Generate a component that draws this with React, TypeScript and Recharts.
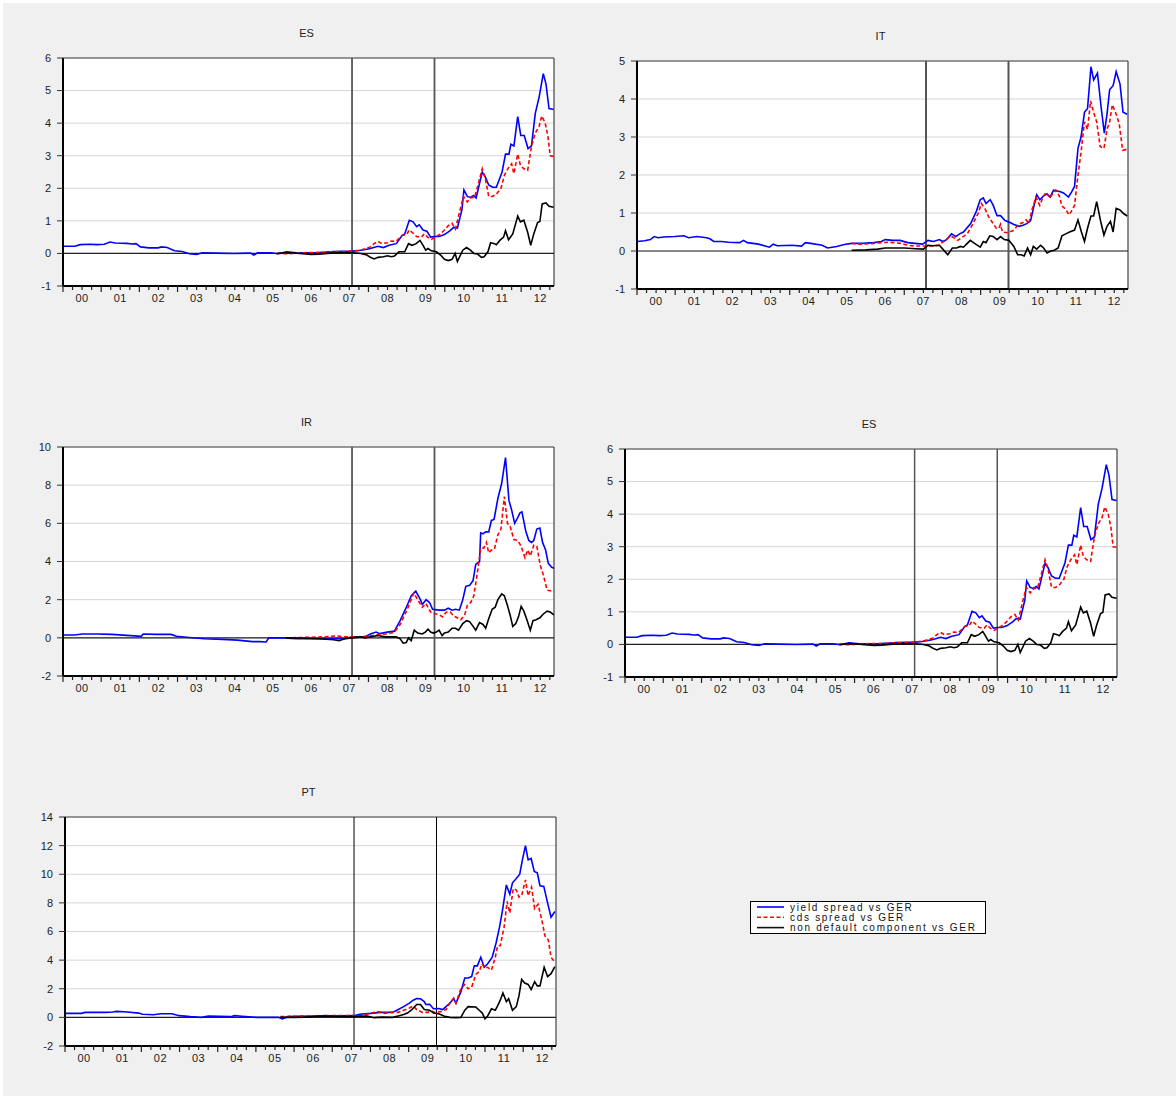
import React from 'react';
import { LineChart, Line, XAxis, YAxis, CartesianGrid, ReferenceLine } from 'recharts';

// ---------- categories / labels ----------
const YEAR_LABELS = ['00', '01', '02', '03', '04', '05', '06', '07', '08', '09', '10', '11', '12'];
const X_MAX = 12.86; // years since Jan 2000
const BREAKS = [7.57, 9.73];
const SERIES_NAMES = ['yield spread vs GER', 'cds spread vs GER', 'non default component vs GER'];

// ---------- data: [years since 2000, value] ----------
const ES_YIELD: [number, number][] = [
  [0.0, 0.22], [0.31, 0.22], [0.45, 0.27], [0.7, 0.28], [0.89, 0.27], [1.08, 0.28], [1.23, 0.35], [1.37, 0.32],
  [1.67, 0.31], [1.81, 0.29], [1.91, 0.3], [2.03, 0.2], [2.25, 0.17], [2.49, 0.17], [2.58, 0.2], [2.73, 0.18],
  [2.92, 0.08], [3.12, 0.06], [3.31, -0.01], [3.5, -0.03], [3.65, 0.02], [3.99, 0.01], [4.47, 0.0], [4.91, 0.01],
  [5.0, -0.05], [5.1, 0.02], [5.44, 0.02], [5.63, -0.01], [5.85, 0.05], [6.12, 0.02], [6.6, 0.02], [6.89, 0.04],
  [7.09, 0.06], [7.57, 0.07], [7.76, 0.09], [7.96, 0.13], [8.05, 0.15], [8.25, 0.22], [8.39, 0.18], [8.54, 0.25],
  [8.73, 0.3], [8.88, 0.55], [8.95, 0.6], [9.07, 1.02], [9.17, 0.97], [9.26, 0.82], [9.33, 0.88], [9.43, 0.72],
  [9.53, 0.68], [9.63, 0.5], [9.75, 0.52], [9.85, 0.52], [9.99, 0.58], [10.14, 0.7], [10.23, 0.8], [10.33, 0.78],
  [10.45, 1.35], [10.5, 1.95], [10.59, 1.75], [10.67, 1.72], [10.75, 1.78], [10.82, 1.7], [10.98, 2.5], [11.06, 2.35],
  [11.15, 2.1], [11.25, 2.03], [11.35, 2.03], [11.5, 2.5], [11.59, 3.05], [11.68, 3.05], [11.73, 3.35], [11.81, 3.3],
  [11.91, 4.2], [11.99, 3.62], [12.08, 3.62], [12.18, 3.22], [12.27, 3.3], [12.37, 4.3], [12.47, 4.8], [12.58, 5.52],
  [12.65, 5.2], [12.73, 4.45], [12.85, 4.42],
];
const ES_CDS: [number, number][] = [
  [5.6, 0.0], [5.9, -0.01], [6.2, 0.02], [6.5, 0.03], [6.8, 0.03], [7.1, 0.05], [7.4, 0.06], [7.6, 0.08], [7.8, 0.1],
  [8.05, 0.2], [8.15, 0.3], [8.25, 0.37], [8.35, 0.3], [8.5, 0.33], [8.6, 0.38], [8.72, 0.37], [8.88, 0.55], [9.0, 0.58],
  [9.07, 0.72], [9.17, 0.62], [9.26, 0.52], [9.39, 0.5], [9.46, 0.6], [9.55, 0.5], [9.65, 0.43], [9.75, 0.5], [9.89, 0.6],
  [9.99, 0.72], [10.09, 0.85], [10.19, 0.92], [10.28, 0.75], [10.38, 1.25], [10.49, 1.75], [10.59, 1.58], [10.69, 1.72],
  [10.78, 1.72], [10.88, 2.15], [10.98, 2.6], [11.06, 2.3], [11.15, 1.75], [11.25, 1.75], [11.35, 1.82], [11.47, 2.0],
  [11.56, 2.4], [11.66, 2.62], [11.75, 2.75], [11.81, 2.45], [11.91, 3.05], [11.98, 2.7], [12.07, 2.6], [12.17, 2.55],
  [12.27, 3.3], [12.37, 3.7], [12.47, 3.9], [12.54, 4.22], [12.63, 4.0], [12.7, 3.6], [12.76, 3.0], [12.85, 2.98],
];
const ES_ND: [number, number][] = [
  [5.6, 0.0], [5.9, 0.03], [6.2, 0.0], [6.5, -0.03], [6.7, -0.02], [7.0, 0.01], [7.3, 0.02], [7.6, 0.02], [7.8, 0.0],
  [7.96, -0.05], [8.05, -0.12], [8.15, -0.17], [8.25, -0.12], [8.39, -0.1], [8.5, -0.07], [8.6, -0.1], [8.68, -0.08],
  [8.8, 0.05], [8.95, 0.05], [9.05, 0.3], [9.14, 0.25], [9.25, 0.3], [9.35, 0.4], [9.43, 0.25], [9.5, 0.1], [9.56, 0.15],
  [9.65, 0.08], [9.78, 0.05], [9.89, -0.05], [9.99, -0.18], [10.09, -0.22], [10.19, -0.18], [10.27, 0.0], [10.33, -0.25],
  [10.47, 0.1], [10.57, 0.18], [10.67, 0.1], [10.76, 0.0], [10.86, -0.02], [10.96, -0.12], [11.03, -0.1], [11.13, 0.05],
  [11.2, 0.33], [11.3, 0.3], [11.35, 0.27], [11.44, 0.4], [11.54, 0.5], [11.59, 0.7], [11.67, 0.42], [11.78, 0.6],
  [11.91, 1.15], [11.98, 0.97], [12.07, 1.02], [12.17, 0.65], [12.25, 0.25], [12.33, 0.6], [12.43, 0.95], [12.49, 0.98],
  [12.55, 1.52], [12.65, 1.55], [12.73, 1.45], [12.85, 1.42],
];

const IT_YIELD: [number, number][] = [
  [0.0, 0.25], [0.2, 0.27], [0.35, 0.3], [0.45, 0.38], [0.55, 0.35], [0.7, 0.37], [0.99, 0.38], [1.23, 0.4], [1.35, 0.35],
  [1.57, 0.38], [1.82, 0.35], [1.91, 0.32], [2.01, 0.25], [2.21, 0.25], [2.4, 0.23], [2.69, 0.22], [2.79, 0.28], [2.89, 0.22],
  [3.18, 0.18], [3.47, 0.1], [3.57, 0.18], [3.67, 0.14], [4.06, 0.15], [4.31, 0.13], [4.41, 0.22], [4.55, 0.2], [4.85, 0.15],
  [4.99, 0.08], [5.23, 0.12], [5.43, 0.17], [5.62, 0.2], [5.91, 0.2], [6.2, 0.22], [6.4, 0.25], [6.5, 0.3], [6.7, 0.28],
  [6.89, 0.28], [7.09, 0.22], [7.28, 0.2], [7.48, 0.18], [7.62, 0.28], [7.77, 0.25], [7.92, 0.3], [8.01, 0.25], [8.11, 0.3],
  [8.24, 0.45], [8.35, 0.38], [8.45, 0.45], [8.55, 0.5], [8.74, 0.72], [8.89, 1.05], [8.99, 1.35], [9.07, 1.4], [9.14, 1.25],
  [9.25, 1.35], [9.33, 1.2], [9.43, 0.93], [9.52, 0.93], [9.64, 0.8], [9.77, 0.75], [9.87, 0.7], [10.01, 0.65], [10.11, 0.68],
  [10.21, 0.72], [10.31, 0.8], [10.4, 1.2], [10.47, 1.48], [10.55, 1.35], [10.65, 1.45], [10.74, 1.5], [10.82, 1.42],
  [10.91, 1.6], [11.01, 1.58], [11.11, 1.55], [11.18, 1.52], [11.3, 1.42], [11.38, 1.55], [11.46, 1.7], [11.55, 2.7],
  [11.63, 3.0], [11.72, 3.65], [11.8, 3.75], [11.89, 4.85], [11.96, 4.5], [12.06, 4.68], [12.16, 3.75], [12.24, 3.1],
  [12.31, 3.6], [12.38, 4.25], [12.47, 4.35], [12.55, 4.72], [12.65, 4.4], [12.73, 3.65], [12.84, 3.6],
];
const IT_CDS: [number, number][] = [
  [5.62, 0.2], [5.9, 0.18], [6.2, 0.2], [6.4, 0.22], [6.6, 0.23], [6.9, 0.2], [7.1, 0.15], [7.3, 0.13], [7.5, 0.13],
  [7.7, 0.13], [7.9, 0.15], [8.1, 0.3], [8.2, 0.4], [8.3, 0.35], [8.4, 0.28], [8.5, 0.35], [8.65, 0.45], [8.79, 0.7],
  [8.94, 1.0], [9.02, 1.25], [9.12, 1.1], [9.21, 0.9], [9.31, 0.75], [9.41, 0.6], [9.48, 0.6], [9.52, 0.7], [9.57, 0.5],
  [9.72, 0.48], [9.87, 0.55], [9.99, 0.7], [10.11, 0.75], [10.19, 0.82], [10.26, 0.72], [10.35, 1.1], [10.45, 1.42],
  [10.55, 1.2], [10.65, 1.45], [10.72, 1.55], [10.8, 1.4], [10.89, 1.5], [10.97, 1.6], [11.06, 1.45], [11.13, 1.18],
  [11.23, 1.1], [11.31, 0.95], [11.38, 1.05], [11.46, 1.2], [11.55, 2.0], [11.63, 2.6], [11.72, 3.4], [11.8, 3.2],
  [11.88, 3.95], [11.96, 3.65], [12.04, 3.4], [12.13, 2.75], [12.23, 2.7], [12.31, 3.2], [12.38, 3.4], [12.45, 3.85],
  [12.55, 3.6], [12.63, 3.35], [12.72, 2.65], [12.84, 2.68],
];
const IT_ND: [number, number][] = [
  [5.62, 0.02], [6.0, 0.03], [6.3, 0.05], [6.5, 0.08], [6.8, 0.08], [7.0, 0.08], [7.3, 0.06], [7.5, 0.05], [7.62, 0.15],
  [7.75, 0.14], [7.92, 0.15], [8.01, 0.05], [8.14, -0.1], [8.26, 0.08], [8.37, 0.08], [8.47, 0.12], [8.55, 0.1], [8.65, 0.2],
  [8.73, 0.28], [8.84, 0.2], [8.99, 0.1], [9.07, 0.25], [9.14, 0.22], [9.24, 0.4], [9.33, 0.38], [9.43, 0.3], [9.52, 0.38],
  [9.62, 0.3], [9.74, 0.28], [9.87, 0.12], [9.97, -0.1], [10.06, -0.1], [10.14, -0.13], [10.23, 0.08], [10.31, -0.1],
  [10.38, 0.12], [10.47, 0.05], [10.57, 0.15], [10.65, 0.08], [10.74, -0.05], [10.84, 0.0], [10.93, 0.02], [11.03, 0.08],
  [11.13, 0.4], [11.23, 0.45], [11.33, 0.5], [11.46, 0.55], [11.55, 0.82], [11.64, 0.5], [11.72, 0.25], [11.8, 0.6],
  [11.89, 0.92], [11.96, 0.92], [12.04, 1.3], [12.14, 0.8], [12.23, 0.42], [12.31, 0.65], [12.4, 0.78], [12.47, 0.5],
  [12.55, 1.12], [12.65, 1.08], [12.75, 0.98], [12.84, 0.92],
];

const IR_YIELD: [number, number][] = [
  [0.0, 0.15], [0.31, 0.15], [0.5, 0.2], [0.89, 0.2], [1.28, 0.18], [1.67, 0.13], [2.05, 0.08], [2.1, 0.2], [2.44, 0.18],
  [2.83, 0.18], [2.97, 0.08], [3.31, 0.02], [3.7, -0.05], [4.18, -0.08], [4.57, -0.12], [4.96, -0.2], [5.15, -0.2],
  [5.32, -0.22], [5.39, 0.0], [5.73, 0.0], [6.12, -0.05], [6.6, -0.05], [7.09, -0.05], [7.38, -0.05], [7.57, 0.05],
  [7.91, 0.05], [8.05, 0.2], [8.2, 0.3], [8.3, 0.22], [8.49, 0.3], [8.68, 0.35], [8.83, 0.9], [8.97, 1.5], [9.12, 2.2],
  [9.24, 2.45], [9.36, 2.0], [9.41, 1.75], [9.51, 2.0], [9.6, 1.85], [9.68, 1.5], [9.85, 1.45], [9.99, 1.45], [10.09, 1.55],
  [10.19, 1.45], [10.28, 1.5], [10.38, 1.45], [10.47, 2.0], [10.55, 2.7], [10.65, 2.75], [10.74, 3.0], [10.81, 3.85],
  [10.91, 4.0], [10.94, 5.5], [11.0, 5.45], [11.07, 5.55], [11.15, 5.55], [11.22, 6.15], [11.29, 6.2], [11.39, 7.3],
  [11.49, 8.1], [11.59, 9.45], [11.68, 7.2], [11.75, 6.7], [11.83, 6.0], [11.91, 6.3], [11.97, 6.55], [12.02, 6.6],
  [12.12, 5.6], [12.2, 5.1], [12.27, 5.0], [12.33, 5.1], [12.41, 5.7], [12.49, 5.75], [12.56, 5.0], [12.64, 4.6],
  [12.71, 3.9], [12.8, 3.7], [12.86, 3.65],
];
const IR_CDS: [number, number][] = [
  [5.83, 0.0], [6.3, 0.02], [6.8, 0.05], [7.18, 0.1], [7.33, 0.05], [7.57, 0.05], [7.8, 0.05], [8.1, 0.12], [8.3, 0.18],
  [8.5, 0.2], [8.68, 0.3], [8.83, 0.7], [9.02, 1.5], [9.19, 2.35], [9.26, 2.1], [9.41, 1.6], [9.51, 1.8], [9.58, 1.5],
  [9.65, 1.3], [9.85, 1.22], [9.94, 1.1], [10.04, 1.35], [10.14, 1.35], [10.23, 1.15], [10.33, 1.05], [10.42, 0.95],
  [10.52, 1.2], [10.59, 1.7], [10.68, 1.85], [10.76, 2.2], [10.86, 3.5], [10.94, 4.7], [11.02, 4.7], [11.09, 5.0],
  [11.15, 4.45], [11.22, 4.6], [11.3, 4.65], [11.39, 5.4], [11.47, 5.7], [11.56, 7.4], [11.64, 6.0], [11.71, 5.85],
  [11.81, 5.15], [11.91, 5.1], [12.0, 4.8], [12.1, 4.2], [12.17, 4.6], [12.24, 4.3], [12.33, 4.85], [12.41, 4.8],
  [12.5, 3.8], [12.58, 3.3], [12.68, 2.5], [12.8, 2.45], [12.86, 2.45],
];
const IR_ND: [number, number][] = [
  [5.83, 0.0], [6.3, -0.02], [6.7, -0.05], [7.09, -0.1], [7.23, -0.15], [7.38, -0.05], [7.57, 0.0], [7.81, 0.05],
  [7.91, 0.0], [8.05, 0.05], [8.25, 0.12], [8.44, 0.05], [8.73, 0.05], [8.83, -0.05], [8.91, -0.28], [8.99, -0.25],
  [9.05, 0.0], [9.12, -0.15], [9.2, 0.4], [9.29, 0.25], [9.41, 0.2], [9.49, 0.3], [9.56, 0.45], [9.63, 0.3], [9.7, 0.25],
  [9.78, 0.3], [9.85, 0.4], [9.93, 0.12], [9.99, 0.25], [10.09, 0.3], [10.19, 0.5], [10.28, 0.5], [10.36, 0.4],
  [10.47, 0.75], [10.57, 0.9], [10.65, 0.85], [10.74, 0.6], [10.81, 0.4], [10.91, 0.8], [11.0, 0.7], [11.07, 0.5],
  [11.15, 1.0], [11.24, 1.5], [11.32, 1.6], [11.39, 2.0], [11.49, 2.3], [11.56, 2.2], [11.64, 1.7], [11.71, 1.2],
  [11.78, 0.6], [11.86, 0.75], [11.93, 1.1], [12.0, 1.65], [12.07, 1.4], [12.15, 0.95], [12.24, 0.4], [12.31, 0.9],
  [12.39, 0.95], [12.49, 1.05], [12.58, 1.25], [12.68, 1.4], [12.76, 1.35], [12.86, 1.2],
];

const PT_YIELD: [number, number][] = [
  [0.0, 0.28], [0.43, 0.28], [0.53, 0.35], [1.06, 0.35], [1.25, 0.38], [1.35, 0.42], [1.64, 0.38], [1.93, 0.3],
  [2.03, 0.22], [2.32, 0.18], [2.51, 0.25], [2.8, 0.25], [2.99, 0.12], [3.28, 0.05], [3.57, 0.0], [3.76, 0.1],
  [4.34, 0.05], [4.44, 0.12], [4.63, 0.08], [5.02, 0.0], [5.31, 0.0], [5.59, 0.0], [5.69, -0.1], [5.84, 0.05],
  [6.08, 0.08], [6.56, 0.1], [6.85, 0.12], [7.04, 0.1], [7.57, 0.12], [7.72, 0.22], [8.01, 0.28], [8.25, 0.35],
  [8.39, 0.35], [8.58, 0.35], [8.73, 0.55], [8.87, 0.75], [9.02, 1.0], [9.12, 1.2], [9.21, 1.32], [9.31, 1.3],
  [9.41, 1.1], [9.45, 0.9], [9.55, 0.92], [9.65, 0.6], [9.79, 0.62], [9.89, 0.55], [9.98, 0.75], [10.08, 1.0],
  [10.18, 1.3], [10.24, 1.0], [10.37, 1.8], [10.47, 2.75], [10.56, 2.75], [10.65, 2.85], [10.72, 3.6], [10.8, 3.6],
  [10.89, 4.2], [10.98, 3.5], [11.07, 3.75], [11.19, 4.2], [11.29, 5.2], [11.38, 6.3], [11.46, 7.5], [11.56, 9.25],
  [11.65, 8.6], [11.72, 9.4], [11.82, 9.7], [11.91, 10.0], [11.98, 11.0], [12.06, 12.0], [12.13, 11.0], [12.21, 11.1],
  [12.29, 10.2], [12.37, 10.1], [12.44, 9.2], [12.54, 9.15], [12.64, 8.0], [12.73, 7.0], [12.83, 7.4],
];
const PT_CDS: [number, number][] = [
  [5.64, 0.05], [6.0, 0.08], [6.5, 0.1], [7.0, 0.12], [7.5, 0.12], [7.75, 0.1], [8.01, 0.3], [8.2, 0.4], [8.34, 0.28],
  [8.54, 0.35], [8.73, 0.35], [8.87, 0.5], [9.02, 0.65], [9.12, 0.8], [9.21, 0.55], [9.36, 0.35], [9.5, 0.35], [9.6, 0.45],
  [9.69, 0.35], [9.84, 0.4], [9.98, 0.55], [10.08, 1.0], [10.18, 1.35], [10.24, 1.0], [10.37, 2.0], [10.47, 2.3],
  [10.56, 2.0], [10.65, 2.1], [10.76, 3.0], [10.85, 3.2], [10.92, 3.75], [11.0, 3.45], [11.07, 3.5], [11.17, 3.3],
  [11.27, 4.2], [11.33, 5.0], [11.4, 5.0], [11.5, 6.3], [11.58, 8.1], [11.65, 7.3], [11.74, 9.0], [11.82, 8.9],
  [11.89, 8.4], [11.96, 8.5], [12.06, 9.6], [12.13, 8.5], [12.22, 9.1], [12.3, 7.6], [12.39, 7.9], [12.49, 6.8],
  [12.57, 5.7], [12.66, 5.4], [12.73, 4.2], [12.83, 3.85],
];
const PT_ND: [number, number][] = [
  [5.64, 0.0], [6.0, 0.0], [6.3, 0.02], [6.7, 0.1], [7.0, 0.08], [7.5, 0.05], [7.91, 0.1], [8.1, -0.02], [8.3, 0.02],
  [8.58, 0.0], [8.73, 0.1], [8.87, 0.2], [8.97, 0.3], [9.07, 0.5], [9.21, 0.9], [9.31, 0.9], [9.41, 0.55], [9.55, 0.5],
  [9.65, 0.3], [9.79, 0.25], [9.94, 0.08], [10.08, 0.0], [10.23, -0.02], [10.37, 0.0], [10.47, 0.5], [10.56, 0.75],
  [10.76, 0.72], [10.85, 0.5], [10.93, 0.3], [11.0, -0.1], [11.07, 0.1], [11.17, 0.6], [11.27, 0.5], [11.33, 0.8],
  [11.4, 1.2], [11.47, 1.7], [11.56, 1.1], [11.62, 1.3], [11.72, 0.5], [11.82, 0.75], [11.89, 1.5], [11.96, 2.65],
  [12.04, 2.4], [12.13, 2.3], [12.21, 1.95], [12.3, 2.5], [12.37, 2.2], [12.44, 2.2], [12.55, 3.5], [12.64, 2.85],
  [12.73, 3.05], [12.83, 3.55],
];

// ---------- axis ticks ----------
const ES_TICKS = [-1, 0, 1, 2, 3, 4, 5, 6];
const IT_TICKS = [-1, 0, 1, 2, 3, 4, 5];
const IR_TICKS = [-2, 0, 2, 4, 6, 8, 10];
const PT_TICKS = [-2, 0, 2, 4, 6, 8, 10, 12, 14];
const QUARTERS: number[] = [];
for (let q = 0; q <= 51; q++) QUARTERS.push(q / 4);

// ---------- styling ----------
const FONT = '"Liberation Sans", Arial, Helvetica, sans-serif';
const ML = 50;
const MR = 12;
const MT = 40;
const MB = 30;
const BLUE = '#0000ff';
const RED = '#ff0000';
const BLACK = '#000000';

const toRows = (p: [number, number][]) => p.map(([t, v]) => ({ t, v }));

function XTick(props: any) {
  const { x, y, payload } = props;
  const v = payload.value as number;
  const isYear = Math.abs(v - Math.round(v)) < 1e-6;
  const isMid = Math.abs(v - Math.floor(v) - 0.5) < 1e-6;
  return (
    <g>
      <line x1={x} y1={y} x2={x} y2={y + (isYear ? 6 : 4)} stroke="#222" strokeWidth={1.2} />
      {isMid && (
        <text x={x} y={y + 16} textAnchor="middle" fontSize={11} fill="#222" fontFamily={FONT} style={{ letterSpacing: '0.5px' }}>
          {YEAR_LABELS[Math.floor(v)]}
        </text>
      )}
    </g>
  );
}

type PanelCfg = {
  title: string;
  left: number;
  top: number;
  w: number;
  h: number;
  ticks: number[];
  yieldS: [number, number][];
  cdsS: [number, number][];
  ndS: [number, number][];
  vStroke: string;
  vWidth: number;
};

const PANELS: PanelCfg[] = [
  { title: 'ES', left: 63, top: 58, w: 491, h: 228, ticks: ES_TICKS, yieldS: ES_YIELD, cdsS: ES_CDS, ndS: ES_ND, vStroke: '#555', vWidth: 1.8 },
  { title: 'IT', left: 637, top: 61, w: 491, h: 228, ticks: IT_TICKS, yieldS: IT_YIELD, cdsS: IT_CDS, ndS: IT_ND, vStroke: '#555', vWidth: 2 },
  { title: 'IR', left: 63, top: 447, w: 491, h: 229, ticks: IR_TICKS, yieldS: IR_YIELD, cdsS: IR_CDS, ndS: IR_ND, vStroke: '#555', vWidth: 1.8 },
  { title: 'ES', left: 625, top: 449, w: 492, h: 228, ticks: ES_TICKS, yieldS: ES_YIELD, cdsS: ES_CDS, ndS: ES_ND, vStroke: '#555', vWidth: 1.5 },
  { title: 'PT', left: 65, top: 817, w: 491, h: 229, ticks: PT_TICKS, yieldS: PT_YIELD, cdsS: PT_CDS, ndS: PT_ND, vStroke: '#000', vWidth: 1 },
];

function Panel({ cfg }: { cfg: PanelCfg }) {
  const { title, left, top, w, h, ticks, yieldS, cdsS, ndS, vStroke, vWidth } = cfg;
  const yMin = ticks[0];
  const yMax = ticks[ticks.length - 1];
  const W = w + ML + MR;
  const H = h + MT + MB;
  return (
    <div style={{ position: 'absolute', left: left - ML, top: top - MT, width: W, height: H }}>
      <div style={{ position: 'absolute', left: ML, top: MT, width: w, height: h, background: '#fff' }} />
      <div
        style={{
          position: 'absolute', left: ML - 2, top: MT - 32, width: w, textAlign: 'center',
          fontSize: 11, lineHeight: '14px', color: '#222', fontFamily: FONT,
        }}
      >
        {title}
      </div>
      <div style={{ position: 'absolute', left: 0, top: 0 }}>
        <LineChart width={W} height={H} margin={{ top: MT, right: MR, bottom: 0, left: 0 }}>
          <CartesianGrid vertical={false} stroke="#d6d6d6" strokeWidth={1} />
          <XAxis
            type="number" dataKey="t" domain={[0, X_MAX]} allowDataOverflow ticks={QUARTERS} interval={0}
            tick={<XTick />} tickLine={false} tickSize={0} tickMargin={0} height={MB}
            axisLine={{ stroke: '#000', strokeWidth: 2 }}
          />
          <YAxis
            type="number" domain={[yMin, yMax]} allowDataOverflow ticks={ticks} interval={0} width={ML}
            tickSize={6} tickMargin={6} tickLine={{ stroke: '#333' }}
            axisLine={{ stroke: '#000', strokeWidth: 2 }}
            tick={{ fontSize: 11, fill: '#222', fontFamily: FONT }}
          />
          <ReferenceLine y={yMax} stroke="#444" strokeWidth={1} />
          <ReferenceLine x={X_MAX} stroke="#444" strokeWidth={1.2} />
          <ReferenceLine y={0} stroke="#222" strokeWidth={1.2} />
          {BREAKS.map((b) => (
            <ReferenceLine key={b} x={b} stroke={vStroke} strokeWidth={vWidth} />
          ))}
          <Line data={toRows(yieldS)} dataKey="v" type="linear" stroke={BLUE} strokeWidth={1.6} dot={false} isAnimationActive={false} name={SERIES_NAMES[0]} />
          <Line data={toRows(cdsS)} dataKey="v" type="linear" stroke={RED} strokeWidth={1.6} strokeDasharray="4 2.5" dot={false} isAnimationActive={false} name={SERIES_NAMES[1]} />
          <Line data={toRows(ndS)} dataKey="v" type="linear" stroke={BLACK} strokeWidth={1.6} dot={false} isAnimationActive={false} name={SERIES_NAMES[2]} />
        </LineChart>
      </div>
    </div>
  );
}

function LegendBox() {
  const rows = [
    { name: SERIES_NAMES[0], color: BLUE, dash: undefined as string | undefined },
    { name: SERIES_NAMES[1], color: RED, dash: '4 2.5' },
    { name: SERIES_NAMES[2], color: '#111', dash: undefined as string | undefined },
  ];
  const ys = [6, 16.3, 26.6];
  return (
    <svg style={{ position: 'absolute', left: 750, top: 901 }} width={237} height={34}>
      <rect x={0.5} y={0.5} width={235} height={32} fill="#fff" stroke="#000" strokeWidth={1} />
      {rows.map((r, i) => (
        <g key={i}>
          <line x1={7} x2={34} y1={ys[i]} y2={ys[i]} stroke={r.color} strokeWidth={1.6} strokeDasharray={r.dash} />
          <text x={40} y={ys[i]} dy="0.35em" fontSize={10} fill="#111" fontFamily={FONT} style={{ letterSpacing: '1.7px' }}>
            {r.name}
          </text>
        </g>
      ))}
    </svg>
  );
}

export default function App() {
  return (
    <div style={{ position: 'absolute', left: 0, top: 0, width: 1176, height: 1096, background: '#fff', overflow: 'hidden' }}>
      <div style={{ position: 'absolute', left: 3, top: 3, right: 0, bottom: 0, background: '#f0f0f0' }} />
      {PANELS.map((p, i) => (
        <Panel key={i} cfg={p} />
      ))}
      <LegendBox />
    </div>
  );
}
